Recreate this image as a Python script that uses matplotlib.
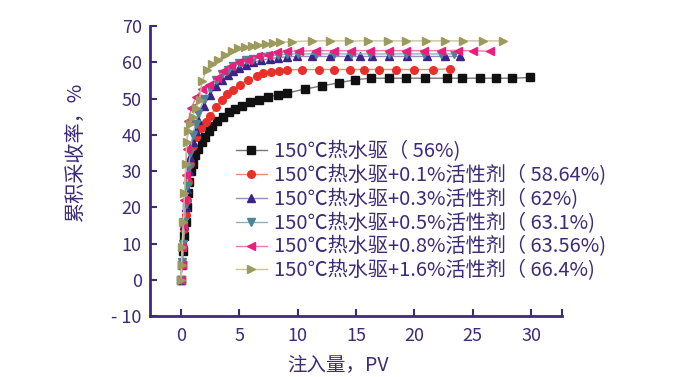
import numpy as np
import matplotlib
matplotlib.use('Agg')
from matplotlib import pyplot as plt

plt.rcParams['font.family'] = ['Noto Sans CJK SC', 'DejaVu Sans']

# 150℃热水驱 (56%)
x_0 = [0, 0.1, 0.2, 0.3, 0.4, 0.5, 0.6, 0.7, 0.85, 1.0, 1.2, 1.5, 1.8, 2.1, 2.4, 2.7, 3.1, 3.6,
       4.1, 4.6, 5.2, 5.9, 6.7, 7.5, 8.3, 9.1, 10.6, 12.1, 13.5, 14.9, 16.3, 17.8, 19.3, 20.9,
       22.8, 24.1, 25.6, 27.0, 28.4, 29.9]
y_0 = [0, 4, 8, 12, 16, 20, 24, 27, 30, 32, 34.5, 36, 38, 39.5, 41, 42.5, 43.8, 45,
       46.2, 47.2, 48, 48.9, 49.7, 50.4, 51, 51.5, 52.6, 53.5, 54.3, 55.2, 55.6, 55.6, 55.6, 55.6,
       55.6, 55.6, 55.6, 55.6, 55.6, 55.8]

# +0.1%活性剂 (58.64%)
x_1 = [0, 0.1, 0.2, 0.3, 0.4, 0.5, 0.63, 0.77, 1.0, 1.3, 1.7, 2.14, 2.5, 3.0, 3.5, 3.97, 4.5,
       5.06, 5.77, 6.5, 7.05, 7.7, 8.4, 9.06, 10.4, 11.8, 13.1, 14.5, 15.7, 17.0, 18.4, 20.0,
       21.6, 23.05]
y_1 = [0, 4, 9, 14, 18, 22, 27, 32, 36.8, 39.5, 42, 43.5, 45.1, 47.6, 49.7, 51.3, 52.4,
       53.8, 55.2, 56.1, 57.0, 57.3, 57.6, 57.9, 58.0, 58.0, 58.0, 58.0, 58.0, 58.0, 58.0, 58.0,
       58.0, 58.2]

# +0.3%活性剂 (62%)
x_2 = [0, 0.1, 0.2, 0.3, 0.4, 0.5, 0.65, 0.8, 1.0, 1.25, 1.5, 2.0, 2.5, 3.0, 3.5, 4.0, 4.5,
       5.0, 5.6, 6.2, 6.9, 7.6, 8.3, 9.1, 9.9, 11.2, 12.8, 14.3, 15.3, 16.4, 17.85, 19.4, 21.05,
       22.6, 23.9]
y_2 = [0, 5, 10, 15, 20, 25, 30, 34, 38, 41, 44, 48, 51, 53.5, 55, 56.5, 57.5,
       58.5, 59.3, 60, 60.6, 61, 61.3, 61.5, 61.6, 61.6, 61.6, 61.6, 61.6, 61.6, 61.6, 61.6, 61.6,
       61.6, 61.6]

# +0.5%活性剂 (63.1%)
x_3 = [0, 0.1, 0.2, 0.3, 0.4, 0.5, 0.65, 0.8, 1.0, 1.25, 1.5, 2.0, 2.5, 3.0, 3.5, 4.0, 4.5,
       5.0, 5.6, 6.2, 6.9, 7.6, 8.3, 9.1, 10.0, 11.6, 13.1, 14.6, 16.2, 17.8, 19.3, 20.8,
       22.3, 23.4]
y_3 = [0, 5, 10, 16, 21, 26, 31, 35, 40, 43, 46, 50, 53, 55, 56.8, 58, 59,
       59.8, 60.5, 61, 61.5, 61.8, 62, 62.2, 62.3, 62.3, 62.3, 62.3, 62.3, 62.3, 62.3, 62.3,
       62.3, 62.3]

# +0.8%活性剂 (63.56%)
x_4 = [0, 0.05, 0.1, 0.2, 0.3, 0.4, 0.5, 0.63, 0.9, 1.3, 1.8, 2.4, 3.06, 3.6, 4.3, 5.0,
       5.77, 6.6, 7.5, 8.2, 9.06, 10.1, 11.6, 13.1, 14.6, 16.2, 17.8, 19.3, 20.8, 22.3, 23.7,
       25.05, 26.5]
y_4 = [0, 4, 9, 15, 22, 29, 36, 43.7, 47.4, 50.5, 52.5, 53.8, 55.6, 57.5, 58.9, 60,
       60.7, 61.6, 62.1, 62.8, 63.0, 63.1, 63.2, 63.2, 63.2, 63.2, 63.2, 63.2, 63.2, 63.2, 63.2,
       63.2, 63.0]

# +1.6%活性剂 (66.4%)
x_5 = [0, 0.05, 0.1, 0.2, 0.3, 0.4, 0.5, 0.63, 0.8, 1.0, 1.3, 1.6, 1.8, 2.2, 2.7, 3.2, 3.8,
       4.35, 4.9, 5.5, 6.05, 6.6, 7.3, 7.85, 8.5, 9.5, 11.2, 12.8, 14.4, 16.05, 17.7, 19.3,
       21.0, 22.6, 24.2, 25.85, 27.6]
y_5 = [0, 4, 9, 16, 24, 32, 38, 41, 43, 45, 47.5, 49.7, 54.7, 57.9, 59.5, 60.7, 62.1,
       63.0, 63.8, 64.2, 64.55, 64.8, 65.1, 65.3, 65.5, 65.7, 65.9, 65.9, 65.9, 65.9, 65.9, 65.9,
       65.9, 65.9, 65.9, 65.9, 65.9]

labels = ['150℃热水驱（ 56%)',
          '150℃热水驱+0.1%活性剂（ 58.64%)',
          '150℃热水驱+0.3%活性剂（ 62%)',
          '150℃热水驱+0.5%活性剂（ 63.1%)',
          '150℃热水驱+0.8%活性剂（ 63.56%)',
          '150℃热水驱+1.6%活性剂（ 66.4%)']

xs = [x_0, x_1, x_2, x_3, x_4, x_5]
ys = [y_0, y_1, y_2, y_3, y_4, y_5]
markers = ['s', 'o', '^', 'v', '<', '>']
mcolors = ['#111111', '#e8302a', '#3b2488', '#4d8496', '#ea1f7c', '#9c9a5c']
lcolors = ['#777777', '#f08a70', '#9a8cc0', '#8fb0bd', '#f07aab', '#c7c49a']

axc = '#3d2a78'

fig = plt.figure(figsize=(6.83, 3.77), dpi=100)
ax = fig.add_axes([0.2196, 0.1618, 0.6034, 0.7692])

for x, y, m, mc, lc, lab in zip(xs, ys, markers, mcolors, lcolors, labels):
    ax.plot(x, y, color=lc, linewidth=1.0, marker=m, markersize=5.5,
            markerfacecolor=mc, markeredgecolor=mc, label=lab)

ax.set_xlim(-2.65, 32.65)
ax.set_ylim(-10, 70)
ax.set_xticks([0, 5, 10, 15, 20, 25, 30])
ax.set_xticks([32.65], minor=True)
ax.set_yticks(np.arange(-10, 71, 10))
ax.set_yticklabels(['- 10', '0', '10', '20', '30', '40', '50', '60', '70'])

for s in ['top', 'right']:
    ax.spines[s].set_visible(False)
for s in ['left', 'bottom']:
    ax.spines[s].set_color(axc)
    ax.spines[s].set_linewidth(2)
ax.tick_params(axis='both', which='both', direction='in', length=5, width=1.5,
               colors=axc, labelsize=13, pad=6)
ax.tick_params(axis='x', pad=8)

ax.set_xlabel('注入量，PV', fontsize=14, color=axc)
ax.xaxis.set_label_coords(0.455, -0.135)
ax.set_ylabel('累积采收率，%', fontsize=14.5, color=axc)
ax.yaxis.set_label_coords(-0.155, 0.569)

leg = ax.legend(loc='upper left', bbox_to_anchor=(0.19, 0.632), frameon=False,
                fontsize=14.5, handlelength=1.5, labelspacing=0.14, borderaxespad=0,
                handletextpad=0.35, labelcolor=axc)

plt.savefig('out.png', dpi=100)
